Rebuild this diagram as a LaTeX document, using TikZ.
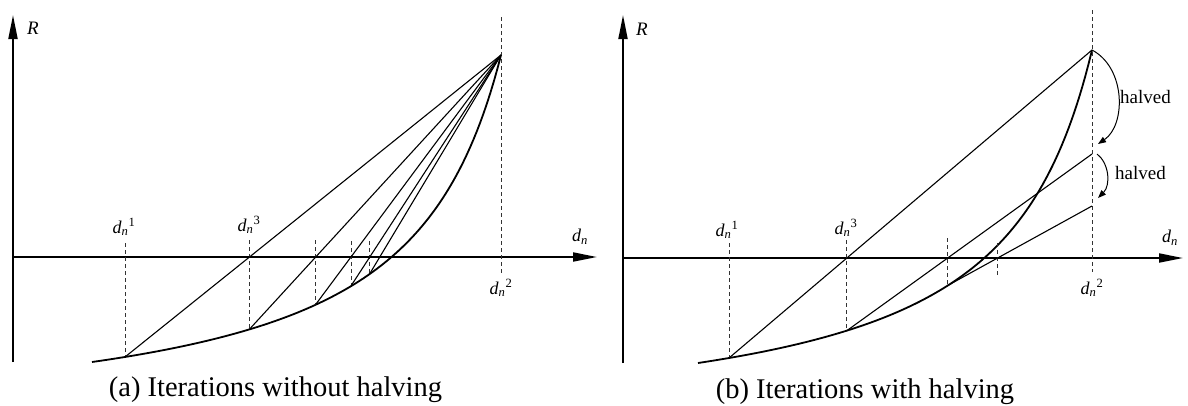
\documentclass[tikz,border=0pt]{standalone}
\usepackage{fontspec}
\setmainfont{Liberation Serif}
\usetikzlibrary{arrows.meta}
\newcommand\dnlab[1]{\textit{d}\textsubscript{\textit{n}}\textsuperscript{#1}}
\begin{document}
\begin{tikzpicture}[x=1pt,y=-1pt,
  axis/.style={line width=1.8pt,-{Triangle[length=24pt,width=9pt]}},
  chord/.style={line width=1.1pt},
  curve/.style={line width=1.8pt},
  guide/.style={line width=0.9pt,black!80,dash pattern=on 4pt off 3pt},
  halfarrow/.style={line width=1pt,-{Triangle[length=8pt,width=6pt]}},
  lab/.style={font=\fontsize{18}{20}\selectfont, inner sep=0pt},
  rlab/.style={font=\fontsize{19}{22}\selectfont\itshape, inner sep=0pt},
  captext/.style={font=\fontsize{28.5}{32}\selectfont, inner sep=0pt},
  note/.style={font=\fontsize{19}{22}\selectfont, inner sep=0pt, anchor=west}]
\useasboundingbox (0,0) rectangle (1188,405);

% ---------------- panel (a) ----------------
\coordinate (aYbot) at (13,362);
\coordinate (aYtop) at (13,15);
\coordinate (aO) at (13,257);
\coordinate (aXend) at (597,257);
\draw[axis] (aYbot) -- (aYtop);
\draw[axis] (aO) -- (aXend);

\draw[curve] plot[domain=92:501,samples=120]
  (\x,{362-307*0.19*((\x-92)/409)/(1-0.81*(\x-92)/409)});

\coordinate (aP1) at (125,357);
\coordinate (aP2) at (501,55);
\coordinate (aP3) at (249.3,329.4);
\coordinate (aP4) at (315.6,304.6);
\coordinate (aP5) at (351.0,285.9);
\coordinate (aP6) at (369.8,273.6);
\coordinate (aG1) at (125,243);
\coordinate (aG3) at (249.3,240);
\coordinate (aG4) at (315.6,240);
\coordinate (aG5) at (351.0,241);
\coordinate (aG6) at (369.8,241);
\coordinate (aG2top) at (501,17);
\coordinate (aG2bot) at (501,274);

\draw[guide] (aG1) -- (aP1);
\draw[guide] (aG3) -- (aP3);
\draw[guide] (aG4) -- (aP4);
\draw[guide] (aG5) -- (aP5);
\draw[guide] (aG6) -- (aP6);
\draw[guide] (aG2top) -- (aG2bot);

\draw[chord] (aP1) -- (aP2);
\draw[chord] (aP3) -- (aP2);
\draw[chord] (aP4) -- (aP2);
\draw[chord] (aP5) -- (aP2);
\draw[chord] (aP6) -- (aP2);

\node[rlab] (aR) at (33,28) {R};
\node[lab] (aDx) at (580,237) {\textit{d}\textsubscript{\textit{n}}};
\node[lab] (aD1) at (124,227) {\dnlab{1}};
\node[lab] (aD3) at (249,225) {\dnlab{3}};
\node[lab] (aD2) at (501,288) {\dnlab{2}};
\node[captext] (aCap) at (275.5,390) {(a) Iterations without halving};

% ---------------- panel (b) ----------------
\coordinate (bYbot) at (623,363);
\coordinate (bYtop) at (623,15);
\coordinate (bO) at (623,258);
\coordinate (bXend) at (1183,258);
\draw[axis] (bYbot) -- (bYtop);
\draw[axis] (bO) -- (bXend);

\draw[curve] plot[domain=698:1092,samples=120]
  (\x,{363-313*0.19*((\x-698)/394)/(1-0.81*(\x-698)/394)});

\coordinate (bP1) at (729,358);
\coordinate (bP2) at (1092,50);
\coordinate (bP3) at (846.9,330.6);
\coordinate (bQ1) at (1092,154);
\coordinate (bP4) at (947.7,285.5);
\coordinate (bQ2) at (1092,206);
\coordinate (bG1) at (729,243);
\coordinate (bG3) at (846.9,240);
\coordinate (bG4) at (947.7,238);
\coordinate (bT5top) at (997.6,243);
\coordinate (bT5bot) at (997.6,275);
\coordinate (bG2top) at (1092,10);
\coordinate (bG2bot) at (1092,272);

\draw[guide] (bG1) -- (bP1);
\draw[guide] (bG3) -- (bP3);
\draw[guide] (bG4) -- (bP4);
\draw[guide] (bT5top) -- (bT5bot);
\draw[guide] (bG2top) -- (bG2bot);

\draw[chord] (bP1) -- (bP2);
\draw[chord] (bP3) -- (bQ1);
\draw[chord] (bP4) -- (bQ2);

\coordinate (bA1end) at (1098,144);
\coordinate (bA2start) at (1097,154);
\coordinate (bA2end) at (1098,198);
\draw[halfarrow] (bP2) .. controls (1126,68) and (1126,125) .. (bA1end);
\draw[halfarrow] (bA2start) .. controls (1109,163) and (1111,185) .. (bA2end);
\node[note] (bH1) at (1120,97) {halved};
\node[note] (bH2) at (1115,173) {halved};

\node[rlab] (bR) at (642,29) {R};
\node[lab] (bDx) at (1170,238) {\textit{d}\textsubscript{\textit{n}}};
\node[lab] (bD1) at (727,230) {\dnlab{1}};
\node[lab] (bD3) at (846,228) {\dnlab{3}};
\node[lab] (bD2) at (1092,288) {\dnlab{2}};
\node[captext] (bCap) at (865,392) {(b) Iterations with halving};
\end{tikzpicture}
\end{document}
